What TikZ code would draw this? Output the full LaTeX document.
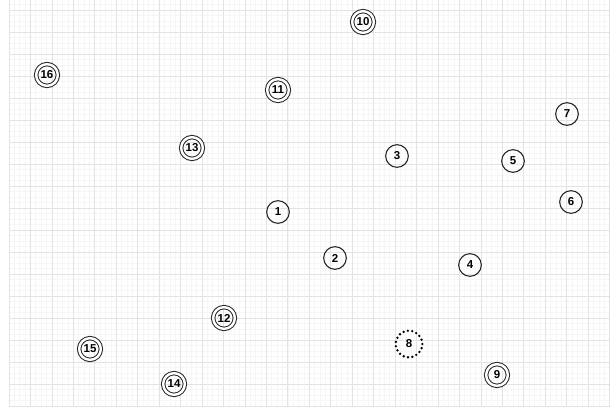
\documentclass[tikz,border=0pt]{standalone}
\usepackage{fontspec}
\setsansfont{Liberation Sans}
\begin{document}
\begin{tikzpicture}[x=0.75pt,y=-0.75pt,
  lbl/.style={font=\sffamily\bfseries\fontsize{8.6}{10}\selectfont, text=black, inner sep=0pt},
  single/.style={lbl, circle, draw=black!85, line width=0.8pt, minimum size=17pt},
  dbl/.style={lbl, circle, draw=black!85, line width=0.75pt, double=white, double distance=1.8pt, minimum size=16.3pt},
  dotcirc/.style={lbl, circle, draw=black, line width=2pt, dash pattern=on 0pt off 3.3pt, line cap=round, minimum size=20pt},
  minorline/.style={draw=black!3.5, line width=0.5pt},
  majorline/.style={draw=black!11, line width=0.6pt}]
\useasboundingbox (0,0) rectangle (610,407);
\fill[white] (0,0) rectangle (610,407);
% grid
\foreach \j in {0,...,112} { \draw[minorline] ({9+5.3625*\j},0) -- ({9+5.3625*\j},407); }
\foreach \j in {-1,...,72} { \draw[minorline] (9,{10+5.5*\j}) -- (610,{10+5.5*\j}); }
\foreach \k in {0,...,28} { \draw[majorline] ({9+21.45*\k},0) -- ({9+21.45*\k},407); }
\foreach \k in {0,...,18} { \draw[majorline] (9,{10+22*\k}) -- (610,{10+22*\k}); }
% nodes
\node[single] (n1) at (278,212) {1};
\node[single] (n2) at (335,258) {2};
\node[single] (n3) at (397,156) {3};
\node[single] (n4) at (470,265) {4};
\node[single] (n5) at (513,161) {5};
\node[single] (n6) at (571,202) {6};
\node[single] (n7) at (567,114) {7};
\node[dotcirc] (n8) at (409,344) {8};
\node[dbl] (n9) at (497,375) {9};
\node[dbl] (n10) at (363,22) {10};
\node[dbl] (n11) at (278,90) {11};
\node[dbl] (n12) at (224,318) {12};
\node[dbl] (n13) at (192,148) {13};
\node[dbl] (n14) at (174,384) {14};
\node[dbl] (n15) at (90,349) {15};
\node[dbl] (n16) at (47,75) {16};
\end{tikzpicture}
\end{document}
